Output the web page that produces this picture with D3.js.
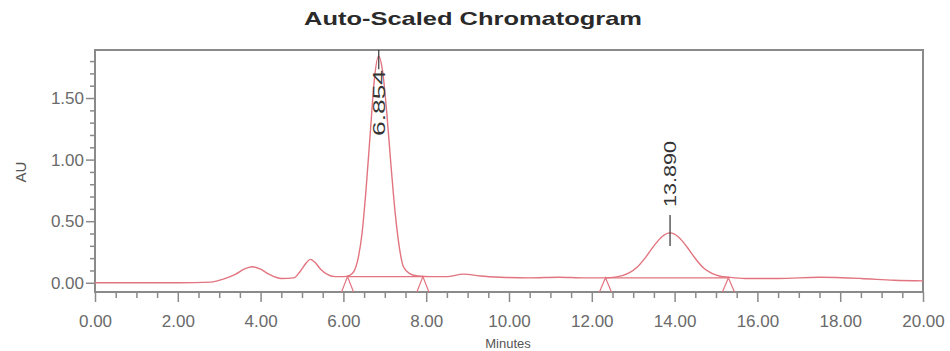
<!DOCTYPE html>
<html>
<head>
<meta charset="utf-8">
<script src="https://cdn.jsdelivr.net/npm/d3@7"></script>
<style>
  html, body { margin: 0; padding: 0; background: #fff; }
  svg { display: block; font-family: "Liberation Sans", Arial, sans-serif; }
</style>
</head>
<body>
<svg id="chart" width="950" height="351"></svg>
<script>
// ---- data ----
const times = [0, 1.0, 2.0, 2.8, 3.1, 3.4, 3.6, 3.8, 4.0, 4.2, 4.5, 4.8,
  4.95, 5.1, 5.2, 5.3, 5.45, 5.6, 5.8, 6.0, 6.15, 6.25, 6.35, 6.45, 6.55, 6.65, 6.75, 6.85,
  6.95, 7.05, 7.15, 7.25, 7.35, 7.45, 7.6, 7.8, 8.1, 8.5, 8.9, 9.3, 9.8, 10.5, 11.2, 11.8,
  12.3, 12.6, 12.9, 13.1, 13.3, 13.5, 13.7, 13.89, 14.1, 14.3, 14.5, 14.7, 14.9, 15.1, 15.3, 15.7,
  16.5, 17.5, 18.5, 19.3, 20];
const au = [0.0, 0.0, 0.0, 0.005, 0.03, 0.07, 0.11, 0.13, 0.11, 0.07, 0.035, 0.04,
  0.09, 0.16, 0.19, 0.17, 0.11, 0.07, 0.05, 0.05, 0.06, 0.09, 0.19, 0.40, 0.77, 1.22, 1.66, 1.84,
  1.71, 1.37, 0.95, 0.57, 0.29, 0.13, 0.075, 0.055, 0.05, 0.05, 0.07, 0.055, 0.045, 0.04, 0.045, 0.04,
  0.04, 0.048, 0.08, 0.128, 0.206, 0.299, 0.376, 0.405, 0.37, 0.29, 0.197, 0.12, 0.076, 0.053, 0.045, 0.035,
  0.035, 0.045, 0.035, 0.02, 0.015];

const peakTimes = [6.854, 13.890];
const peakHeights = [1.84, 0.405];
const peakLabels = ["6.854", "13.890"];

const integStart = [6.10, 12.33];
const integEnd = [7.92, 15.30];
const integStartLevel = [0.05, 0.04];
const integEndLevel = [0.05, 0.04];

const xMajorTicks = [0, 2, 4, 6, 8, 10, 12, 14, 16, 18, 20];
const xTickLabels = ["0.00", "2.00", "4.00", "6.00", "8.00", "10.00", "12.00", "14.00", "16.00", "18.00", "20.00"];
const yMajorTicks = [0, 0.5, 1.0, 1.5];
const yTickLabels = ["0.00", "0.50", "1.00", "1.50"];

const titleText = "Auto-Scaled Chromatogram";
const xTitle = "Minutes";
const yTitle = "AU";

// ---- layout ----
const W = 950, H = 351;
const m = { left: 95, right: 27, top: 50, bottom: 59 };
const svg = d3.select("#chart");

const x = d3.scaleLinear().domain([0, 20]).range([m.left, W - m.right]);
const y = d3.scaleLinear().domain([-0.075, 1.89]).range([H - m.bottom, m.top]);

const axisColor = "#8a8a8a";
const labelColor = "#6a6a6a";
const lineColor = "#e2747f";

// title
svg.append("text")
  .attr("x", 473).attr("y", 25)
  .attr("text-anchor", "middle")
  .attr("font-size", 19).attr("font-weight", "bold")
  .attr("fill", "#2a2a2a")
  .attr("textLength", 338).attr("lengthAdjust", "spacingAndGlyphs")
  .text(titleText);

// y axis major
const yAxis = d3.axisLeft(y).tickValues(yMajorTicks)
  .tickFormat((d, i) => yTickLabels[i]).tickSize(9).tickPadding(2);
const gy = svg.append("g").attr("transform", `translate(${m.left},0)`).call(yAxis);
gy.select(".domain").remove();
gy.selectAll("line").attr("stroke", axisColor).attr("stroke-width", 1.5);
gy.selectAll("text").attr("fill", labelColor).attr("font-size", 17)
  .attr("font-family", "Liberation Sans, Arial, sans-serif");

// y minor ticks
const yMinor = d3.range(-0.0, 1.9, 0.1).map(v => +v.toFixed(2)).filter(v => !yMajorTicks.includes(v));
const gy2 = svg.append("g").attr("transform", `translate(${m.left},0)`)
  .call(d3.axisLeft(y).tickValues(yMinor).tickFormat("").tickSize(5));
gy2.select(".domain").remove();
gy2.selectAll("line").attr("stroke", axisColor).attr("stroke-width", 1.5);

// x axis major
const xAxis = d3.axisBottom(x).tickValues(xMajorTicks)
  .tickFormat((d, i) => xTickLabels[i]).tickSize(10).tickPadding(13);
const gx = svg.append("g").attr("transform", `translate(0,${H - m.bottom})`).call(xAxis);
gx.select(".domain").remove();
gx.selectAll("line").attr("stroke", axisColor).attr("stroke-width", 1.5);
gx.selectAll("text").attr("fill", labelColor).attr("font-size", 17)
  .attr("font-family", "Liberation Sans, Arial, sans-serif");

// x minor ticks
const xMinor = d3.range(0.5, 20, 0.5).filter(v => v % 2 !== 0);
const gx2 = svg.append("g").attr("transform", `translate(0,${H - m.bottom})`)
  .call(d3.axisBottom(x).tickValues(xMinor).tickFormat("").tickSize(6));
gx2.select(".domain").remove();
gx2.selectAll("line").attr("stroke", axisColor).attr("stroke-width", 1.5);

// frame
svg.append("rect")
  .attr("x", m.left).attr("y", m.top)
  .attr("width", W - m.left - m.right).attr("height", H - m.top - m.bottom)
  .attr("fill", "none").attr("stroke", axisColor).attr("stroke-width", 2);

// axis titles
svg.append("text")
  .attr("transform", `translate(26,172) rotate(-90)`)
  .attr("text-anchor", "middle")
  .attr("font-size", 15).attr("fill", "#555")
  .text(yTitle);
svg.append("text")
  .attr("x", 508).attr("y", 348)
  .attr("text-anchor", "middle")
  .attr("font-size", 13).attr("fill", "#555")
  .text(xTitle);

// clip
svg.append("clipPath").attr("id", "plotclip").append("rect")
  .attr("x", m.left).attr("y", m.top)
  .attr("width", W - m.left - m.right).attr("height", H - m.top - m.bottom);

const plot = svg.append("g").attr("clip-path", "url(#plotclip)");

// integration baselines
peakTimes.forEach((p, i) => {
  plot.append("line")
    .attr("x1", x(integStart[i])).attr("y1", y(integStartLevel[i]))
    .attr("x2", x(integEnd[i])).attr("y2", y(integEndLevel[i]))
    .attr("stroke", lineColor).attr("stroke-width", 1.3);
  [[integStart[i], integStartLevel[i]], [integEnd[i], integEndLevel[i]]].forEach(([t, v]) => {
    const px = x(t), py = y(v), by = H - m.bottom;
    plot.append("path")
      .attr("d", `M${px - 6},${by} L${px},${py} L${px + 6},${by}`)
      .attr("fill", "none").attr("stroke", lineColor).attr("stroke-width", 1.2);
  });
});

// signal
const pts = times.map((t, i) => [t, au[i]]);
const line = d3.line().x(d => x(d[0])).y(d => y(d[1])).curve(d3.curveMonotoneX);
plot.append("path").datum(pts)
  .attr("d", line)
  .attr("fill", "none").attr("stroke", lineColor).attr("stroke-width", 1.4);

// peak labels
const labelLen = 66;
peakTimes.forEach((p, i) => {
  const px = x(p), py = y(peakHeights[i]);
  svg.append("line")
    .attr("x1", px).attr("x2", px)
    .attr("y1", Math.max(py - 18, m.top)).attr("y2", py + 13)
    .attr("stroke", "#333").attr("stroke-width", 1.2);
  const start = Math.max(py - 26, m.top + 20 + labelLen);
  svg.append("text")
    .attr("transform", `translate(${px + 6},${start}) rotate(-90)`)
    .attr("font-size", 17).attr("fill", "#333")
    .attr("textLength", labelLen).attr("lengthAdjust", "spacingAndGlyphs")
    .text(peakLabels[i]);
});
</script>
</body>
</html>
